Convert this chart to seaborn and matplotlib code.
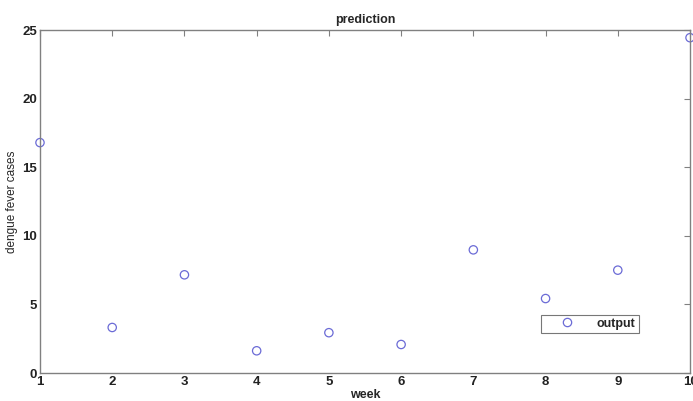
import matplotlib
matplotlib.use("Agg")
import matplotlib.pyplot as plt
from matplotlib.lines import Line2D
import seaborn as sns
import pandas as pd

# values
weeks = [1, 2, 3, 4, 5, 6, 7, 8, 9, 10]
cases = [16.8, 3.32, 7.16, 1.62, 2.94, 2.08, 8.98, 5.43, 7.50, 24.45]

df = pd.DataFrame({"week": weeks, "cases": cases})

sns.set_style("white")
plt.rcParams["font.family"] = ["Liberation Sans", "DejaVu Sans"]

fig = plt.figure(figsize=(6.93, 4.01), dpi=100)
ax = fig.add_axes([0.0577, 0.0698, 0.938, 0.855])

marker_color = "#6b6bd6"
sns.scatterplot(data=df, x="week", y="cases", marker="o", s=36,
                color=marker_color, linewidth=0.9, ax=ax, legend=False,
                clip_on=False)
# open circles like the MATLAB 'o' marker
ax.collections[0].set_facecolor("none")
ax.collections[0].set_edgecolor(marker_color)

ax.set_xlim(1, 10)
ax.set_ylim(0, 25)
ax.set_xticks(weeks)
ax.set_yticks([0, 5, 10, 15, 20, 25])

for sp in ax.spines.values():
    sp.set_color("#808080")
    sp.set_linewidth(1.0)
ax.tick_params(direction="in", length=4, width=0.8, color="#808080",
               top=True, right=True, labelsize=9.5, pad=2)
for lab in ax.get_xticklabels() + ax.get_yticklabels():
    lab.set_fontweight("bold")
    lab.set_color("#222222")

ax.set_title("prediction", fontsize=9, fontweight="bold", pad=5)
ax.set_xlabel("week", fontsize=9, fontweight="bold", labelpad=1)
ax.set_ylabel("dengue fever cases", fontsize=8.5, labelpad=3,
              family=["Liberation Sans Narrow", "Liberation Sans", "DejaVu Sans"])

handle = Line2D([], [], linestyle="none", marker="o", markersize=6,
                markerfacecolor="none", markeredgecolor=marker_color,
                markeredgewidth=0.9)
leg = ax.legend([handle], ["output"], loc="lower left",
                bbox_to_anchor=(0.771, 0.117), fancybox=False,
                frameon=True, fontsize=9, borderpad=0.25,
                handletextpad=0.6, borderaxespad=0, handlelength=3.6)
leg.get_frame().set_edgecolor("#555555")
leg.get_frame().set_linewidth(0.8)
for t in leg.get_texts():
    t.set_fontweight("bold")

fig.savefig("out.png", dpi=100)
